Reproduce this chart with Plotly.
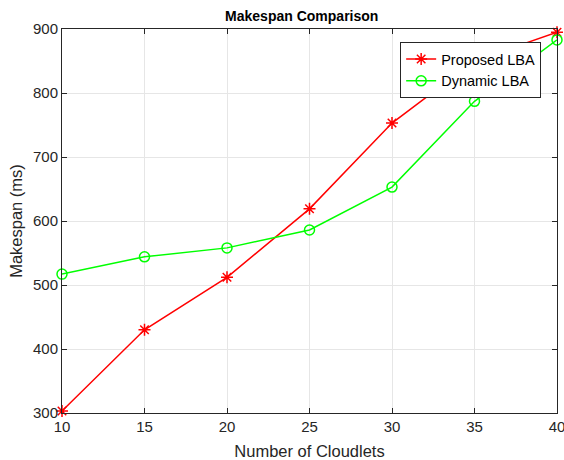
import plotly.graph_objects as go

cloudlets = [10, 15, 20, 25, 30, 35, 40]
proposed_lba = [303, 430, 512, 619, 753, 850, 895]
dynamic_lba = [517, 544, 558, 586, 653, 787, 883]
y_ticks = [300, 400, 500, 600, 700, 800, 900]
x_ticks = [10, 15, 20, 25, 30, 35, 40]

FONT = "Liberation Sans, Arial, Helvetica"

fig = go.Figure()
fig.add_trace(go.Scatter(
    x=cloudlets, y=proposed_lba, mode="lines+markers", name="Proposed LBA",
    line=dict(color="#ff0000", width=1.5), cliponaxis=False,
    marker=dict(symbol="asterisk-open", size=10, line=dict(color="#ff0000", width=1.5)),
))
fig.add_trace(go.Scatter(
    x=cloudlets, y=dynamic_lba, mode="lines+markers", name="Dynamic LBA",
    line=dict(color="#00ff00", width=1.5), cliponaxis=False,
    marker=dict(symbol="circle-open", size=10, color="#00ff00", line=dict(color="#00ff00", width=1.5)),
))

axis_common = dict(
    showgrid=True, gridcolor="#e6e6e6", gridwidth=1,
    showline=True, linecolor="#262626", linewidth=1, mirror="ticks",
    ticks="inside", ticklen=5, tickcolor="#262626",
    tickfont=dict(family=FONT, size=15, color="#262626"),
    zeroline=False, automargin=False, ticklabeloverflow="allow",
)

fig.update_layout(
    width=564, height=460,
    margin=dict(l=62, r=7, t=29, b=47),
    paper_bgcolor="white", plot_bgcolor="white",
    title=dict(text="<b>Makespan Comparison</b>", x=0.535, xanchor="center", y=0.965, yanchor="middle",
               font=dict(family=FONT, size=14, color="black")),
    xaxis=dict(axis_common, range=[10, 40], tickvals=x_ticks,
               title=dict(text="Number of Cloudlets", standoff=11,
                          font=dict(family=FONT, size=16.5, color="#262626"))),
    yaxis=dict(axis_common, range=[300, 900], tickvals=y_ticks,
               title=dict(text="Makespan (ms)", standoff=6,
                          font=dict(family=FONT, size=16.5, color="#262626"))),
    legend=dict(x=0.968, y=0.966, xanchor="right", yanchor="top",
                bgcolor="white", bordercolor="#262626", borderwidth=1,
                font=dict(family=FONT, size=14.5, color="black"),
                tracegroupgap=0, itemwidth=30),
    showlegend=True,
)

fig.write_html(
    "out.html",
    config={"displayModeBar": False},
    post_script="document.body.style.margin='0';document.body.style.overflow='hidden';"
                "document.documentElement.style.overflow='hidden';",
)
